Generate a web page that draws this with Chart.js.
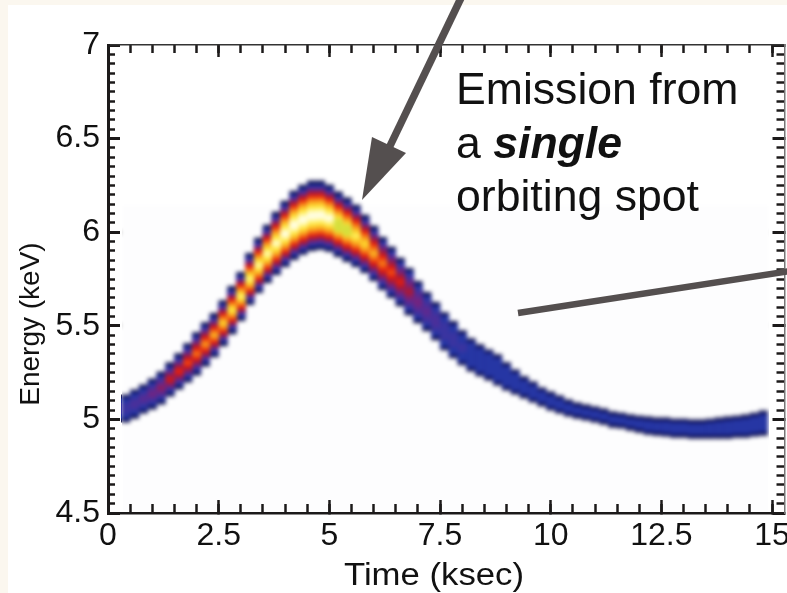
<!DOCTYPE html>
<html><head><meta charset="utf-8">
<style>html,body{margin:0;padding:0;background:#fff;overflow:hidden}canvas{display:block}</style>
<script src="https://cdn.jsdelivr.net/npm/chart.js@4"></script></head>
<body><canvas id="c" width="787" height="593"></canvas>
<script>
// time-bin centres start at 0.4 ksec, one bin every 0.2 ksec
const timeStart = 0.4, timeStep = 0.2;
const upperEdge = [5.133,5.160,5.187,5.219,5.256,5.305,5.353,5.407,5.466,5.519,5.568,5.637,5.712,5.788,5.889,5.970,6.040,6.109,6.168,6.222,6.254,6.276,6.276,6.254,6.217,6.185,6.147,6.093,6.034,5.975,5.922,5.863,5.809,5.739,5.680,5.627,5.573,5.525,5.476,5.433,5.401,5.374,5.348,5.305,5.267,5.230,5.203,5.171,5.149,5.128,5.106,5.090,5.079,5.069,5.058,5.042,5.036,5.026,5.020,5.015,5.010,5.010,5.004,5.004,4.999,4.999,5.004,5.010,5.015,5.020,5.026,5.036,5.047];
const lowerEdge = [4.983,5.004,5.031,5.053,5.079,5.122,5.160,5.197,5.235,5.283,5.332,5.391,5.455,5.525,5.611,5.675,5.729,5.771,5.814,5.852,5.879,5.900,5.906,5.895,5.868,5.841,5.814,5.782,5.739,5.691,5.648,5.605,5.557,5.514,5.471,5.423,5.369,5.326,5.289,5.256,5.230,5.208,5.181,5.154,5.133,5.112,5.090,5.069,5.047,5.031,5.015,5.004,4.994,4.983,4.972,4.956,4.951,4.940,4.929,4.918,4.913,4.908,4.902,4.902,4.897,4.897,4.897,4.897,4.897,4.902,4.902,4.908,4.913];
const peakLevel = [.24,.27,.30,.36,.42,.54,.58,.62,.67,.72,.76,.82,.88,.92,.94,.96,.98,1,1.04,1.06,1.06,1.06,1.06,1.04,1,.96,.9,.84,.76,.68,.62,.55,.47,.38,.32,.28,.24,.22,.20,.19,.18,.17,.17,.17,.17,.17,.17,.17,.17,.17,.17,.17,.17,.17,.17,.17,.17,.17,.17,.17,.17,.17,.17,.17,.17,.17,.17,.17,.17,.17,.17,.17,.17];
// colour levels of the intensity map (low to high)
const rimInsets = [0, 0.010, 0.022];
const rimColours = ['#0e0e44','#151b70','#2636a4'];
const levels = [.20,.25,.30,.35,.40,.45,.50,.55,.60,.65,.70,.75,.80,.85,.90,.95,1];
const levelColours = ['#3a34a0','#4a2f9a','#5c2a90','#722480','#8a1e60','#a81a38','#c81a20','#e42212','#ee4a12','#f47216','#f8941c','#fab424','#fcd02c','#fee440','#fff070','#fff8a0','#fffde0'];
// yellow-green patch just after the peak (time-bin numbers and its energy span)
const tintBins = [24, 25], tintLow = [6.00, 5.98], tintHigh = [6.07, 6.04];
const xMajorTicks = 2.5, xMinorTicks = 0.5, yMajorTicks = 0.5, yMinorTicks = 0.05;
const xRange = [0, 15.28], yRange = [4.5, 7];
const xTitle = 'Time (ksec)', yTitle = 'Energy (keV)';
const noteLines = [[['Emission from',false]],[['a ',false],['single',true]],[['orbiting spot',false]]];

const times = peakLevel.map((_, i) => timeStart + i * timeStep);
const rimInner = rimInsets[rimInsets.length-1] + 0.008;
const datasets = [];
let ord = 100;
rimInsets.forEach((ins, k) => {
  datasets.push({ order: ord--, backgroundColor: rimColours[k],
    data: times.map((t, i) => ({ x: t, y: [lowerEdge[i] + ins, upperEdge[i] - ins] })) });
});
levels.forEach((lv, k) => {
  const pts = [];
  times.forEach((t, i) => {
    const I = peakLevel[i];
    if (lv > I) return;
    const mid = (upperEdge[i] + lowerEdge[i]) / 2;
    const W = (upperEdge[i] - lowerEdge[i]) / 2 - rimInner;
    const f = 1 - Math.pow((lv - .15) / (I - .15 + .02), 1.4);
    pts.push({ x: t, y: [mid - W * f, mid + W * f] });
  });
  datasets.push({ order: ord--, backgroundColor: levelColours[k], data: pts });
});
datasets.push({ order: ord--, backgroundColor: '#d6df3c', data: tintBins.map((b, i) => ({ x: times[b], y: [tintLow[i], tintHigh[i]] })) });
datasets.forEach(d => { d.borderWidth = 0; d.barPercentage = 1.03; d.categoryPercentage = 1; d.grouped = false; });

const INK = '#1c1a1a', ARROW = '#544f4f';
const size = (w, h) => (s) => { if (w !== null) s.width = w; if (h !== null) s.height = h;
  s.paddingLeft = 0; s.paddingRight = 0; s.paddingTop = 0; s.paddingBottom = 0; };
const common = { type: 'linear', grid: { drawOnChartArea: false, offset: false } };
function xAxis(pos, step, len, tw, wgt, h, extra) {
  return Object.assign({}, common, { position: pos, min: xRange[0], max: xRange[1], offset: false, weight: wgt,
    grid: { drawOnChartArea: false, offset: false, tickLength: -len, tickWidth: tw, tickColor: INK },
    border: { display: false },
    ticks: { display: false, stepSize: step, includeBounds: false, autoSkip: false }, afterFit: size(null, h) }, extra || {});
}
function yAxis(pos, step, len, tw, wgt, w, extra) {
  return Object.assign({}, common, { position: pos, min: yRange[0], max: yRange[1], weight: wgt, beginAtZero: false,
    grid: { drawOnChartArea: false, tickLength: -len, tickWidth: tw, tickColor: INK },
    border: { display: false },
    ticks: { display: false, stepSize: step, includeBounds: false, autoSkip: false }, afterFit: size(w, null) }, extra || {});
}
const tickFont = { family: '"Liberation Sans"', size: 32 };
const fmt = v => String(+v.toFixed(2));

const paper = { id: 'paper',
  beforeDraw(ch) { const c = ch.ctx; c.save(); c.fillStyle = '#fff'; c.fillRect(0,0,787,593);
    c.fillStyle = '#fbf7ef'; c.fillRect(0,0,787,5); c.fillRect(0,0,8,593);
    c.fillStyle = '#fdfdfe'; c.fillRect(123,206,645,304); c.restore(); } };
const soften = { id: 'soften',
  afterDatasetsDraw(ch) { const c = ch.ctx; c.save(); c.beginPath(); c.rect(122,170,647,275); c.clip();
    c.filter = 'blur(2px)'; c.drawImage(ch.canvas, 0, 0); c.restore(); } };
const notes = { id: 'notes',
  afterDraw(ch) { const c = ch.ctx; c.save();
    c.strokeStyle = ARROW; c.fillStyle = ARROW;
    c.lineWidth = 7.5; c.beginPath(); c.moveTo(461,-2); c.lineTo(389,148); c.stroke();
    c.beginPath(); c.moveTo(362,200); c.lineTo(372,137); c.lineTo(406,153); c.closePath(); c.fill();
    c.lineWidth = 6.5; c.beginPath(); c.moveTo(518,313); c.lineTo(790,271); c.stroke();
    c.fillStyle = '#111'; c.textBaseline = 'alphabetic';
    const base = [104, 158, 211];
    noteLines.forEach((parts, i) => { let x = 456;
      parts.forEach(([t, strong]) => { c.font = (strong ? 'italic bold ' : '') + '44.6px "Liberation Sans"';
        c.fillText(t, x, base[i]); x += c.measureText(t).width; }); });
    c.textAlign = 'center'; c.textBaseline = 'middle';
    c.save(); c.translate(434, 576); c.scale(1.12, 1); c.font = '31px "Liberation Sans"'; c.fillText(xTitle, 0, 0); c.restore();
    c.translate(31, 324); c.rotate(-Math.PI/2); c.font = '28px "Liberation Sans"'; c.fillText(yTitle, 0, 0);
    c.restore(); } };

new Chart(document.getElementById('c'), {
  type: 'bar',
  data: { datasets },
  plugins: [paper, soften, notes],
  options: {
    responsive: false, animation: false, devicePixelRatio: 1,
    layout: { padding: 0 },
    plugins: { legend: { display: false }, tooltip: { enabled: false }, title: { display: false } },
    datasets: { bar: { grouped: false } },
    scales: {
      x: xAxis('bottom', xMajorTicks, 13, 2.5, 1, 80, {
        border: { display: true, color: INK, width: 2.5 },
        ticks: { display: true, stepSize: xMajorTicks, includeBounds: false, autoSkip: false, maxRotation: 0, padding: 17, color: '#111', font: tickFont, callback: fmt } }),
      x2: xAxis('bottom', xMinorTicks, 9, 2.5, 0, 0),
      xt: xAxis('top', xMajorTicks, 12, 2.5, 1, 45, { border: { display: true, color: '#333', width: 1.5 } }),
      xt2: xAxis('top', xMinorTicks, 8, 2.5, 0, 0),
      y: yAxis('left', yMajorTicks, 12, 3, 1, 108, {
        border: { display: true, color: INK, width: 3 },
        ticks: { display: true, stepSize: yMajorTicks, includeBounds: false, autoSkip: false, padding: 20, color: '#111', font: tickFont, callback: fmt } }),
      y2: yAxis('left', yMinorTicks, 7, 2.5, 0, 0),
      yr: yAxis('right', yMajorTicks, 12, 3, 1, 2.5, { border: { display: true, color: '#777', width: 1.5 } }),
      yr2: yAxis('right', yMinorTicks, 8, 2.5, 0, 0)
    }
  }
});
</script></body></html>
